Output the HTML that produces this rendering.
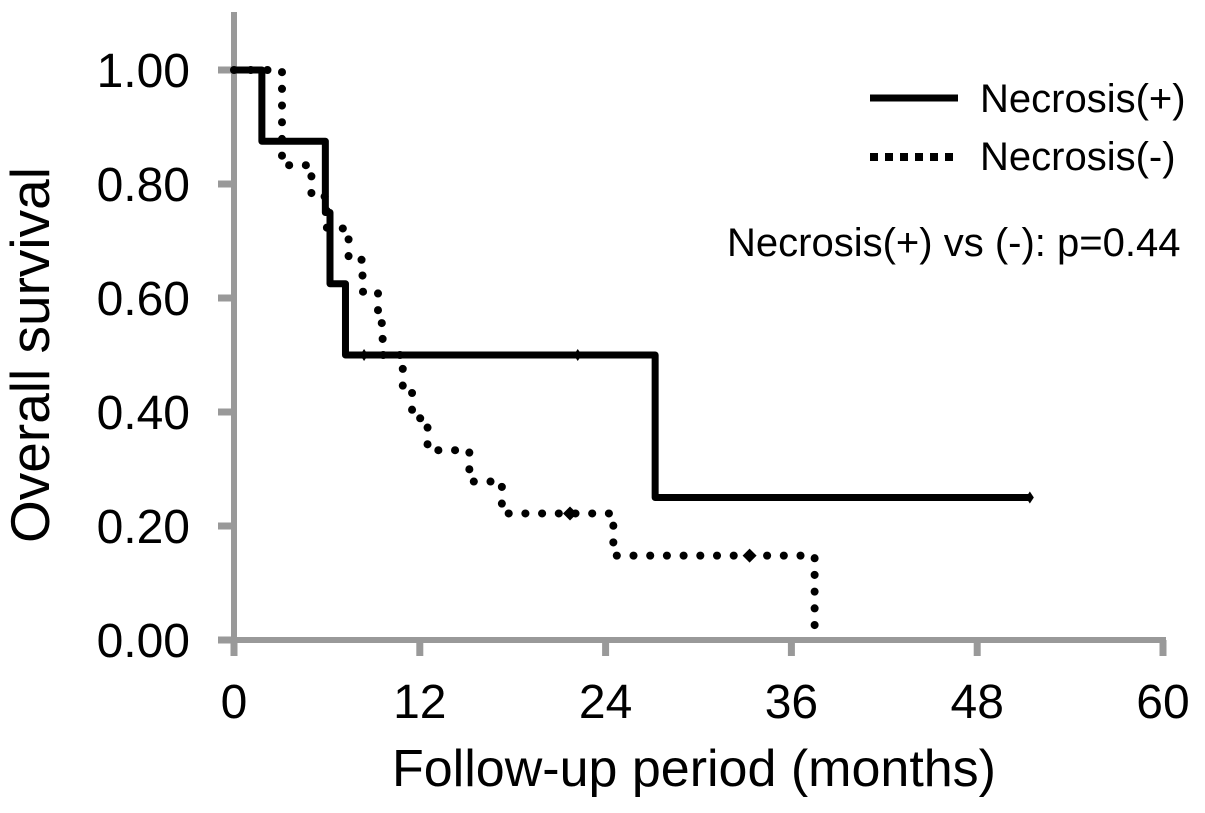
<!DOCTYPE html>
<html><head><meta charset="utf-8"><style>
html,body{margin:0;padding:0;background:#fff;}
svg{display:block;font-family:"Liberation Sans",Arial,sans-serif;}
</style></head><body>
<svg id="chart" width="1205" height="813" viewBox="0 0 1205 813">
<g id="axes"></g>
<g id="series"></g>
<g>
<line x1="870" y1="98" x2="958" y2="98" stroke="#000" stroke-width="7"/>
<text x="980" y="112" font-size="40">Necrosis(+)</text>
<line x1="870" y1="157" x2="958" y2="157" stroke="#000" stroke-width="8" stroke-dasharray="8,7"/>
<text x="980" y="170" font-size="40">Necrosis(-)</text>
<text x="727" y="256" font-size="40">Necrosis(+) vs (-): p=0.44</text>
</g>
<text x="694" y="786" font-size="52" text-anchor="middle">Follow-up period (months)</text>
<text transform="translate(49,355) rotate(-90)" font-size="55" text-anchor="middle">Overall survival</text>
</svg>
<script>
const xTicks=[0,12,24,36,48,60];
const yTicks=[0,0.2,0.4,0.6,0.8,1.0];
const posTimes=[0,1.8,5.9,6.2,7.2,27.2,51.4];
const posSurv=[1.0,0.875,0.75,0.625,0.5,0.25,0.25];
const posCensor=[8.4,22.2,51.4];
const negTimes=[0,3.1,5.0,6.0,7.4,8.3,9.3,9.6,10.9,11.5,12.5,15.2,17.3,24.5,37.5];
const negSurv=[1.0,0.833,0.778,0.722,0.667,0.611,0.556,0.5,0.444,0.389,0.333,0.278,0.222,0.148,0];
const negCensor=[21.7,33.3];
const X0=234,X1=1163,Y0=640,Y1=70;
const sx=t=>X0+(t-0)/(60-0)*(X1-X0);
const sy=s=>Y0-(s-0)/(1-0)*(Y0-Y1);
const NS="http://www.w3.org/2000/svg";
const axes=document.getElementById('axes'),ser=document.getElementById('series');
function mk(tag,attrs,parent){const e=document.createElementNS(NS,tag);for(const k in attrs)e.setAttribute(k,attrs[k]);parent.appendChild(e);return e;}
let a=mk('line',{x1:X0,y1:12,x2:X0,y2:Y0+3,stroke:'#999','stroke-width':6},axes);


a=mk('line',{x1:X0-3,y1:Y0,x2:X1+3,y2:Y0,stroke:'#999','stroke-width':6},axes);


xTicks.forEach(t=>{
 const l=mk('line',{x1:sx(t),y1:Y0,x2:sx(t),y2:Y0+16,stroke:'#999','stroke-width':7},axes);
 
 
 const tx=mk('text',{x:sx(t),y:Y0+78,'font-size':48,'text-anchor':'middle'},axes);
 tx.textContent=t;
 
 
});
yTicks.forEach(v=>{
 const l=mk('line',{x1:X0-16,y1:sy(v),x2:X0,y2:sy(v),stroke:'#999','stroke-width':7},axes);
 
 
 const tx=mk('text',{x:X0-44,y:sy(v)+17,'font-size':48,'text-anchor':'end'},axes);
 tx.textContent=v.toFixed(2);
 
 
});
function stepPath(ts,ss){let d=`M${sx(ts[0])},${sy(ss[0])}`;for(let i=1;i<ts.length;i++){d+=` H${sx(ts[i])} V${sy(ss[i])}`;}return d;}
let p=mk('path',{d:stepPath(posTimes,posSurv),fill:'none',stroke:'#000','stroke-width':7,'stroke-linejoin':'round'},ser);


p=mk('path',{d:stepPath(negTimes,negSurv),fill:'none',stroke:'#000','stroke-width':8,'stroke-dasharray':'0.1,16.6','stroke-linecap':'round'},ser);


function survAt(ts,ss,t){let s=ss[0];for(let i=0;i<ts.length;i++){if(ts[i]<=t)s=ss[i];}return s;}
posCensor.forEach(t=>{const x=sx(t),y=sy(survAt(posTimes,posSurv,t));
 const m=mk('path',{d:`M${x},${y-6} L${x+4},${y} L${x},${y+6} L${x-4},${y}Z`,fill:'#000'},ser);
 
 });
negCensor.forEach(t=>{const x=sx(t),y=sy(survAt(negTimes,negSurv,t));
 const m=mk('path',{d:`M${x},${y-7} L${x+7},${y} L${x},${y+7} L${x-7},${y}Z`,fill:'#000'},ser);
 
 });
</script>
</body></html>
